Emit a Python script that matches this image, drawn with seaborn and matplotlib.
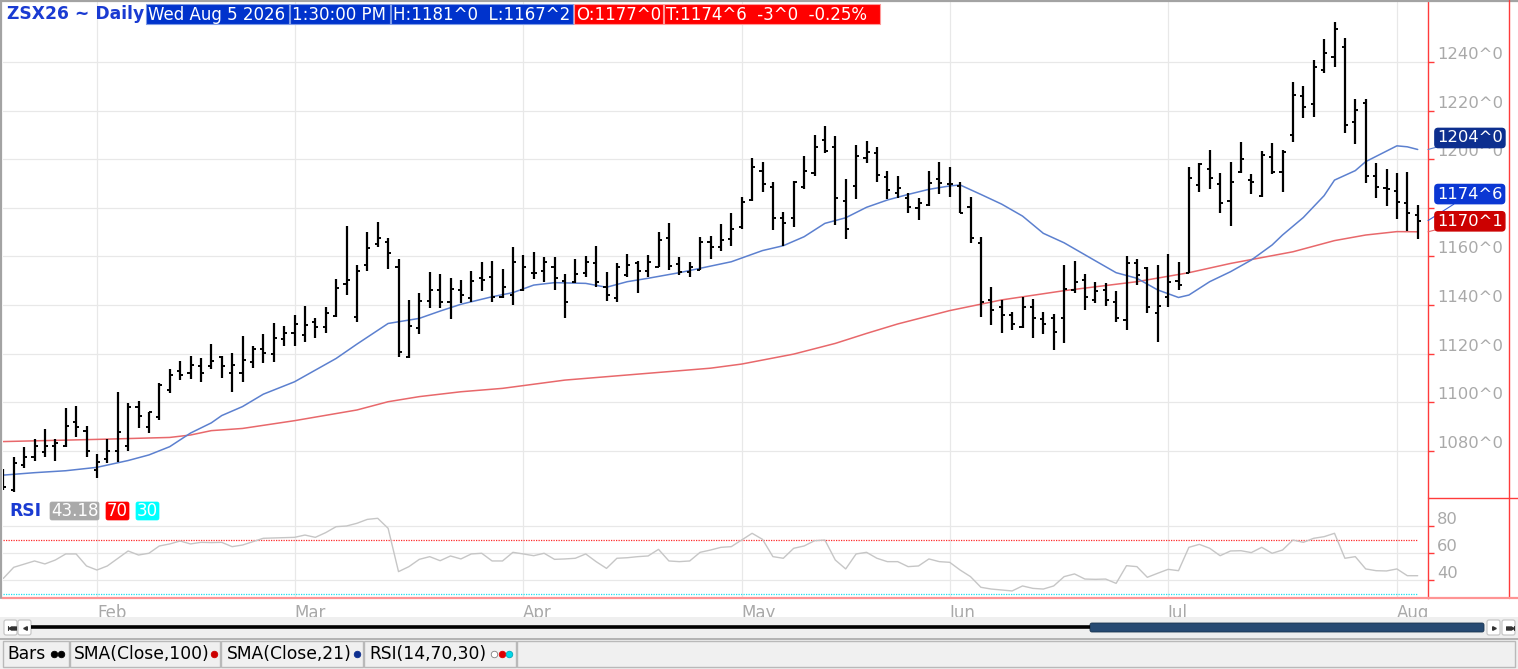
import numpy as np
import pandas as pd
import matplotlib
matplotlib.use("Agg")
import matplotlib.pyplot as plt
import matplotlib.transforms as mtrans
from matplotlib.patches import Rectangle, FancyBboxPatch
import seaborn as sns

sns.set_theme(style="white")
plt.rcParams["font.family"] = ["DejaVu Sans"]

# ---------------- data ----------------
symbol = "ZSX26 ~ Daily"
quote_time = "1:30:00 PM"
holidays = ["2026-02-16", "2026-04-03", "2026-05-25", "2026-06-19", "2026-07-03"]
first_day, last_day = "2026-01-20", "2026-08-05"

open_ = [1068, 1064, 1074, 1077.3, 1079.4, 1082, 1082, 1092, 1088, 1072,
         1076.6, 1080, 1082, 1098, 1090, 1094, 1105, 1113, 1112, 1115,
         1115, 1118.5, 1111.9, 1112.1, 1116.4, 1122, 1120, 1126, 1128.3, 1127.6,
         1133, 1131, 1135.5, 1148.6, 1135, 1156.5, 1165, 1166, 1155.8, 1118.5,
         1130.4, 1141.6, 1146.2, 1141.4, 1146.2, 1142.7, 1151, 1151.4, 1143.4, 1144.1,
         1146.2, 1153, 1154.1, 1155.8, 1150, 1149.6, 1153.3, 1157.4, 1147.6, 1142.7,
         1152.4, 1157.1, 1154, 1155.8, 1167.4, 1156.9, 1153.4, 1154.4, 1166, 1164,
         1167, 1172, 1183.2, 1195.1, 1188.7, 1175.7, 1175.7, 1188.4, 1194.2, 1207.9,
         1205, 1183, 1189, 1200.4, 1202.4, 1192.5, 1186.2, 1183.9, 1179.8, 1181.2,
         1192, 1190, 1189, 1180.5, 1165.4, 1142.1, 1139.3, 1135.9, 1131.1, 1139.3,
         1134.1, 1134.5, 1134.5, 1146.2, 1150.3, 1142, 1146, 1141.4, 1133.8, 1157.1,
         1155.1, 1136.6, 1143.4, 1150, 1153.3, 1189.4, 1195.8, 1189.8, 1182.8, 1194.9,
         1191.4, 1184.8, 1201, 1194.9, 1209.9, 1226, 1222.6, 1236.7, 1241.9, 1246.3,
         1215.4, 1223, 1193, 1188, 1187, 1182, 1177]
high = [1072.4, 1077.3, 1081.7, 1084.8, 1088.8, 1084.8, 1097.5, 1098.4, 1090.3, 1078.5,
        1084.8, 1104.3, 1099.5, 1100.6, 1096.1, 1107.8, 1113.7, 1117.1, 1119.1, 1118,
        1123.9, 1119.1, 1120.1, 1127.2, 1123.3, 1128, 1132.4, 1131.3, 1135.9, 1139.7,
        1134.8, 1139.3, 1150.6, 1172.5, 1156.4, 1169.9, 1174.3, 1167.4, 1158.8, 1142,
        1145.1, 1153.7, 1152.7, 1151.2, 1150.3, 1154.1, 1157.5, 1158.1, 1154.7, 1164,
        1160.6, 1162, 1159.9, 1159.9, 1152.8, 1158.9, 1160.3, 1164.3, 1153.7, 1157.4,
        1160.9, 1158.1, 1160.6, 1170.2, 1173.9, 1159.9, 1157.6, 1167.8, 1168.4, 1173.2,
        1177.7, 1184.3, 1200.4, 1198.7, 1190.8, 1178.1, 1191.2, 1201.3, 1210, 1213.8,
        1209.5, 1191.7, 1205.8, 1207.5, 1205.2, 1195.1, 1193.2, 1186.2, 1183.9, 1195.1,
        1199, 1196.9, 1190.5, 1184.3, 1167.8, 1147.3, 1142, 1137.2, 1143.4, 1142.5,
        1137.2, 1136.5, 1156.4, 1158.2, 1152.7, 1149.6, 1149.2, 1145.9, 1160.3, 1158.9,
        1155.5, 1156.4, 1161, 1157.8, 1196.9, 1198.6, 1203.8, 1194.2, 1199, 1207.2,
        1193.9, 1203.4, 1206.5, 1203.8, 1231.9, 1230.1, 1240.8, 1249.3, 1256.6, 1249.7,
        1224.8, 1224.8, 1198.3, 1195.8, 1194.2, 1194.9, 1181]
low = [1063.9, 1063.2, 1073.1, 1075.8, 1077.6, 1075.9, 1081.7, 1085.5, 1077.6, 1068.7,
       1074.8, 1075.5, 1080, 1089.5, 1087.5, 1092.7, 1103.6, 1109.1, 1109.5, 1108.2,
       1113.5, 1109.8, 1104.3, 1108.4, 1114.2, 1116.3, 1116.4, 1123.3, 1123.3, 1124.9,
       1126.5, 1128.6, 1134.9, 1144.1, 1133.1, 1154, 1164, 1154.7, 1118.7, 1118,
       1127.9, 1138.6, 1138.6, 1134.1, 1140.9, 1141.4, 1145.7, 1141.1, 1142.7, 1140,
       1145.9, 1150.7, 1149.6, 1146.2, 1134.8, 1149.2, 1151.7, 1147.5, 1141.8, 1141.4,
       1151.4, 1144.8, 1151.7, 1155.8, 1154.4, 1152.3, 1151.4, 1154.4, 1158.8, 1162.2,
       1164.3, 1171.1, 1182.8, 1186.4, 1170.9, 1164.4, 1172.2, 1187.6, 1193.2, 1202.4,
       1172.9, 1167, 1183.6, 1198.3, 1190.8, 1183.6, 1183.9, 1177.7, 1175, 1180.7,
       1185.7, 1184.6, 1177.7, 1165.4, 1134.9, 1131.8, 1128.3, 1129.7, 1130.4, 1126.3,
       1127.9, 1121.5, 1124.2, 1144.8, 1137.9, 1140.7, 1139.6, 1133.1, 1129.7, 1148.2,
       1136.8, 1124.6, 1139.3, 1146.2, 1153, 1186.6, 1187.6, 1178, 1172.5, 1194.4,
       1185.7, 1184.3, 1193.9, 1186.4, 1207.2, 1216.8, 1217.5, 1235.3, 1237.8, 1210.6,
       1206.2, 1190.1, 1183.9, 1180.7, 1175.4, 1170.4, 1167.25]
close = [1065.2, 1074.8, 1077.6, 1082, 1082, 1083.3, 1090.3, 1089.9, 1080, 1075.5,
         1080, 1087.9, 1098, 1094.3, 1095.8, 1107, 1111.2, 1111.2, 1115.3, 1112.1,
         1117.1, 1115, 1115.3, 1117.4, 1121.9, 1120.4, 1126.3, 1128.6, 1132, 1131.8,
         1131.1, 1136.6, 1146.8, 1150.3, 1154.1, 1163.3, 1167.4, 1161.5, 1120.8, 1131.3,
         1141.6, 1146.2, 1141.4, 1146.4, 1144.1, 1150, 1150.3, 1143.4, 1147.3, 1157.8,
         1155.8, 1153, 1157.8, 1151, 1141.4, 1152.8, 1157.8, 1149.6, 1144.1, 1155.8,
         1156.5, 1154.1, 1157.8, 1166.7, 1156.2, 1153.4, 1155.8, 1166.1, 1164, 1166.8,
         1171.1, 1182.5, 1196.9, 1189.7, 1175.7, 1173.6, 1190.8, 1195.1, 1205.2, 1203.5,
         1183.9, 1171.1, 1201.3, 1203.1, 1193.5, 1187.3, 1188, 1180.5, 1181.8, 1190.1,
         1190.1, 1189.8, 1178, 1167.4, 1141.4, 1137.9, 1135.9, 1132.2, 1139.3, 1134.5,
         1132.2, 1129, 1146.4, 1149.6, 1143.4, 1145.9, 1142, 1134.5, 1157.1, 1152.3,
         1139.3, 1139.7, 1149.6, 1148.2, 1192.4, 1198, 1192.1, 1181.8, 1190.7, 1199.9,
         1190.7, 1201.7, 1194.9, 1203.1, 1226.4, 1221.3, 1238, 1243.8, 1253.4, 1214.1,
         1220.2, 1193, 1188.7, 1187.6, 1182.5, 1177.75, 1174.75]

sma21_idx = [0, 3, 6, 9, 12, 14, 16, 18, 20, 21, 23, 25, 28, 30, 32, 34, 37, 40, 42, 44,
             47, 49, 51, 53, 56, 58, 60, 62, 65, 67, 70, 73, 75, 77, 79, 81, 83, 85, 87, 89,
             91, 92, 94, 96, 98, 100, 102, 105, 107, 109, 111, 113, 114, 116, 118, 120, 122, 123, 125, 127,
             128, 130, 131, 134, 135, 136]
sma21_val = [1070.0, 1071.0, 1071.8, 1073.2, 1076.0, 1078.3, 1081.7, 1087.3, 1091.5, 1094.5,
             1098.2, 1103.3, 1108.4, 1113.2, 1118.0, 1123.9, 1132.4, 1134.5, 1137.5, 1140.3,
             1143.4, 1145.1, 1148.2, 1149.2, 1148.9, 1147.3, 1149.6, 1151.0, 1153.3, 1155.1,
             1157.8, 1162.4, 1164.4, 1168.1, 1173.6, 1175.9, 1180.2, 1183.2, 1185.5, 1187.6,
             1189.0, 1189.4, 1185.5, 1181.5, 1176.6, 1169.5, 1165.6, 1158.2, 1153.3, 1151.0,
             1146.2, 1143.1, 1144.1, 1149.6, 1153.7, 1158.5, 1164.7, 1168.8, 1176.0, 1185.0,
             1191.4, 1195.3, 1199.0, 1205.5, 1205.1, 1204.0]

sma100_idx = [0, 9, 16, 18, 20, 23, 28, 34, 37, 40, 44, 48, 54, 60, 68, 71, 76, 80, 83, 86,
              91, 96, 102, 109, 114, 118, 124, 128, 131, 134, 136]
sma100_val = [1083.8, 1084.7, 1085.5, 1086.5, 1088.3, 1089.2, 1092.4, 1096.8, 1100.2, 1102.3,
              1104.3, 1105.7, 1109.1, 1111.2, 1114.0, 1115.7, 1119.8, 1124.2, 1128.3, 1132.2,
              1137.7, 1142.1, 1145.9, 1149.6, 1153.3, 1157.1, 1161.9, 1166.5, 1168.8, 1170.2, 1170.125]

rsi_idx = [0, 1, 3, 4, 5, 6, 7, 8, 9, 10, 12, 13, 14, 15, 16, 17, 18, 19, 20, 21,
           22, 23, 25, 28, 29, 30, 31, 32, 33, 34, 35, 36, 37, 38, 39, 40, 41, 42, 43, 44,
           45, 46, 47, 48, 49, 50, 51, 52, 53, 54, 55, 56, 57, 58, 59, 60, 61, 62, 63, 64,
           65, 66, 67, 68, 69, 70, 72, 73, 74, 75, 76, 77, 78, 79, 80, 81, 82, 83, 84, 85,
           86, 87, 88, 89, 90, 91, 92, 93, 94, 95, 96, 97, 98, 99, 100, 101, 102, 103, 104, 105,
           106, 107, 108, 109, 110, 111, 112, 113, 114, 115, 116, 117, 118, 119, 120, 121, 122, 123, 124, 125,
           126, 127, 128, 129, 130, 131, 132, 133, 134, 135, 136]
rsi_val = [41.2, 49.4, 54.1, 51.9, 54.8, 59.3, 59.3, 50.4, 47.4, 50.4, 61.5, 58.5, 59.8, 65.2, 66.7, 68.9, 66.7, 67.9, 67.7, 67.9,
           64.7, 65.9, 70.9, 71.6, 73.3, 71.6, 75.1, 79.5, 80.0, 82.0, 84.9, 85.7, 78.3, 46.2, 49.9, 55.3, 57.3, 54.3, 57.8, 55.6,
           59.3, 59.8, 54.1, 54.1, 60.5, 59.3, 58.0, 59.8, 55.3, 55.6, 56.1, 59.3, 53.6, 48.6, 56.1, 56.5, 57.3, 57.8, 62.7, 54.1,
           53.6, 54.1, 60.5, 62.2, 64.2, 64.7, 74.6, 70.1, 57.3, 56.1, 63.5, 65.2, 69.1, 69.6, 54.8, 48.2, 59.3, 60.5, 56.1, 53.6,
           53.6, 49.9, 50.4, 55.6, 53.6, 53.1, 47.4, 42.5, 34.6, 33.3, 32.6, 31.9, 35.6, 33.8, 33.3, 35.6, 42.5, 44.5, 40.7, 40.5,
           40.7, 37.5, 50.6, 49.9, 42.0, 45.0, 47.9, 46.9, 64.2, 66.4, 63.5, 58.0, 61.5, 61.7, 60.3, 64.2, 59.8, 62.2, 69.6, 67.9,
           70.9, 72.1, 74.6, 56.1, 57.3, 48.2, 46.9, 46.7, 48.2, 43.2, 43.18]
rsi_upper, rsi_lower = 70, 30

price_ticks = [1080, 1100, 1120, 1140, 1160, 1180, 1200, 1220, 1240]
hidden_price_labels = [1180]   # covered by the last-price tag in the reference
rsi_ticks = [40, 60, 80]
legend_items = ["Bars", "SMA(Close,100)", "SMA(Close,21)", "RSI(14,70,30)"]


def eighths(v):
    s = "-" if v < 0 else ""
    a = abs(v)
    whole = int(a + 1e-9)
    frac = int(round((a - whole) * 8))
    if frac == 8:
        whole, frac = whole + 1, 0
    return f"{s}{whole}^{frac}"


dates = pd.bdate_range(first_day, last_day, freq="C", holidays=holidays)
n = len(dates)
idx = np.arange(n)
o = np.array(open_); h = np.array(high); l = np.array(low); c = np.array(close)
month_start = [i for i in range(1, n) if dates[i].month != dates[i - 1].month]
month_labels = [dates[i].strftime("%b") for i in month_start]

# ---------------- figure ----------------
W, H = 1518, 669
fig = plt.figure(figsize=(W / 100, H / 100), dpi=100)
fig.patch.set_facecolor("white")


def add_px_axes(x0, y0, x1, y1, **kw):
    return fig.add_axes([x0 / W, 1 - y1 / H, (x1 - x0) / W, (y1 - y0) / H], **kw)


XL = (-0.03, 136.99)
RED = "#ff3b3b"
GRID = "#e8e8e8"
LABEL_GRAY = "#a9a9a9"

# price panel
ax = add_px_axes(3, 2, 1428, 498)
ax.set_facecolor("white")
ax.set_xlim(*XL)
ax.set_ylim(1060.58, 1264.69)
for s in ["top", "left", "bottom"]:
    ax.spines[s].set_visible(False)
ax.spines["right"].set_color(RED)
ax.spines["right"].set_linewidth(1.0)
ax.set_xticks([])
ax.yaxis.tick_right()
ax.set_yticks(price_ticks)
ax.tick_params(axis="y", direction="out", length=4, width=1, color=RED, labelright=False, labelleft=False)
for v in price_ticks:
    ax.axhline(v, color=GRID, lw=0.9, zorder=0)
for m in month_start:
    ax.axvline(m, color=GRID, lw=0.9, zorder=0)

sns.lineplot(x=sma100_idx, y=sma100_val, ax=ax, color="#e8686b", lw=1.1, zorder=2)
sns.lineplot(x=sma21_idx, y=sma21_val, ax=ax, color="#5c80cf", lw=1.1, zorder=2)
ax.vlines(idx, l, h, color="black", lw=1.6, zorder=3)
ax.hlines(o, idx - 0.3, idx, color="black", lw=1.4, zorder=3)
ax.hlines(c, idx, idx + 0.3, color="black", lw=1.4, zorder=3)
ax.set_xlabel(""); ax.set_ylabel("")

bt = mtrans.blended_transform_factory(ax.transAxes, ax.transData)
lab_tr = mtrans.offset_copy(bt, fig=fig, x=9, y=7.5, units="dots")
for v in price_ticks:
    if v in hidden_price_labels:
        continue
    ax.text(1.0, v, eighths(v), transform=lab_tr, ha="left", va="center",
            color=LABEL_GRAY, fontsize=11.8, clip_on=False)


def price_tag(val, fc, dy, lc):
    ax.annotate(eighths(val), xy=(1.0, val), xycoords=bt, xytext=(9, dy),
                textcoords="offset pixels", ha="left", va="center", color="white",
                fontsize=11.8, zorder=10, annotation_clip=False,
                bbox=dict(boxstyle="round,pad=0.13,rounding_size=0.2", fc=fc, ec=fc),
                arrowprops=dict(arrowstyle="-", color=lc, lw=0.8, shrinkA=0, shrinkB=0))


price_tag(sma21_val[-1], "#0d2f8f", 11.5, "#5c80cf")
price_tag(c[-1], "#0b37d3", 26.5, "#3a60d8")
price_tag(sma100_val[-1], "#cc0000", 10.5, "#e8686b")

# RSI panel
axr = add_px_axes(3, 498, 1428, 598)
axr.set_facecolor("white")
axr.set_xlim(*XL)
axr.set_ylim(26.67, 100.74)
for s in ["top", "left"]:
    axr.spines[s].set_visible(False)
axr.spines["right"].set_color(RED)
axr.spines["right"].set_linewidth(1.0)
axr.spines["bottom"].set_color("#ff9494")
axr.spines["bottom"].set_linewidth(1.6)
for v in rsi_ticks:
    axr.axhline(v, color=GRID, lw=0.9, zorder=0)
for m in month_start:
    axr.axvline(m, color=GRID, lw=0.9, zorder=0)
axr.hlines(rsi_upper, XL[0], idx[-1], colors="#ff2a2a", lw=0.9, linestyles=(0, (1, 1)), zorder=2)
axr.hlines(rsi_lower, XL[0], idx[-1], colors="#19e3f0", lw=0.9, linestyles=(0, (1, 1)), zorder=2)
sns.lineplot(x=rsi_idx, y=rsi_val, ax=axr, color="#c6c6c6", lw=1.0, zorder=3)
axr.set_xlabel(""); axr.set_ylabel("")
axr.yaxis.tick_right()
axr.set_yticks(rsi_ticks)
axr.tick_params(axis="y", direction="out", length=4, width=1, color=RED, labelright=False, labelleft=False)
axr.set_xticks(month_start)
axr.set_xticklabels(month_labels)
axr.tick_params(axis="x", direction="out", length=3, width=1, color=RED, pad=1.5,
                labelcolor=LABEL_GRAY, labelsize=12)
for t in axr.get_xticklabels():
    t.set_ha("left")
bt_r = mtrans.blended_transform_factory(axr.transAxes, axr.transData)
lab_tr_r = mtrans.offset_copy(bt_r, fig=fig, x=9, y=7, units="dots")
for v in rsi_ticks:
    axr.text(1.0, v, str(v), transform=lab_tr_r, ha="left", va="center",
             color=LABEL_GRAY, fontsize=11.8, clip_on=False)

# ---------------- overlay (frame, header, toolbar) ----------------
ov = fig.add_axes([0, 0, 1, 1], zorder=20)
ov.set_xlim(0, W); ov.set_ylim(H, 0); ov.axis("off"); ov.patch.set_alpha(0)

ov.plot([0, W], [1, 1], color="#a3a3a3", lw=1.6)
ov.plot([1, 1], [0, 598], color="#a3a3a3", lw=1.6)
ov.plot([1428, W], [498, 498], color=RED, lw=1.0)
ov.plot([1509, 1509], [0, 598], color=RED, lw=1.0)
ov.plot([1428, W], [598, 598], color="#ff9494", lw=1.6)

# header
ov.text(7, 14, symbol, color="#1a3bd2", fontsize=12.3, fontweight="bold", ha="left", va="center")
last = dates[-1]
date_txt = f"{last.strftime('%a %b')} {last.day} {last.year}"
chg = c[-1] - c[-2]
pct = chg / c[-2] * 100
boxes = [
    (146, 289, "#0033cc", date_txt),
    (290, 390, "#0033cc", quote_time),
    (391, 573, "#0033cc", f"H:{eighths(h[-1])}  L:{eighths(l[-1])}"),
    (574, 663, "#ff0000", f"O:{eighths(o[-1])}"),
    (664, 880, "#ff0000", f"T:{eighths(c[-1])}  {eighths(chg)}  {pct:.2f}%"),
]
for x0, x1, fc, txt in boxes:
    ec = "#7f9be6" if fc == "#0033cc" else "#ff9a9a"
    ov.add_patch(Rectangle((x0, 4), x1 - x0, 20, fc=fc, ec=ec, lw=0.8))
    ov.text(x0 + 2, 14.5, txt, color="white", fontsize=12, ha="left", va="center")

# RSI header
ov.text(9, 511, "RSI", color="#1a3bd2", fontsize=12.3, fontweight="bold", ha="left", va="center")
rsi_boxes = [(50, 99, "#a9a9a9", f"{rsi_val[-1]:.2f}"),
             (106, 129, "#ff0000", str(rsi_upper)),
             (136, 159, "#00ffff", str(rsi_lower))]
for x0, x1, fc, txt in rsi_boxes:
    ov.add_patch(FancyBboxPatch((x0, 502), x1 - x0, 18, boxstyle="round,pad=0,rounding_size=2",
                                fc=fc, ec=fc, lw=0.5))
    ov.text((x0 + x1) / 2, 511.5, txt, color="white", fontsize=12, ha="center", va="center")

# scrollbar
ov.add_patch(Rectangle((0, 617), W, 21, fc="#efefef", ec="none"))
ov.plot([31, 1090], [627, 627], color="black", lw=2.6, solid_capstyle="butt")
ov.add_patch(FancyBboxPatch((1090, 623), 394, 9, boxstyle="round,pad=0,rounding_size=2",
                            fc="#274a72", ec="#1b3550", lw=0.6))
# scroll buttons: (left x, arrow direction, with end bar)
for bx, direction, bar in [(4, "<", True), (18, "<", False), (1487, ">", False), (1502, ">", True)]:
    ov.add_patch(FancyBboxPatch((bx, 620), 13, 15, boxstyle="round,pad=0,rounding_size=2",
                                fc="white", ec="#c2c2c2", lw=0.8))
    cx = bx + 6.5
    if bar:
        ov.plot([cx + 1.5, cx + 3.5], [627.5, 627.5], ls="none", marker=direction, ms=2.6, color="#333333")
        ov.plot([cx - 2.5 if direction == "<" else cx + 5.5] * 2, [625.5, 629.5], color="#333333", lw=0.8)
        ov.plot([cx - 0.5], [627.5], ls="none", marker=direction, ms=2.6, color="#333333")
    else:
        ov.plot([cx], [627.5], ls="none", marker=direction, ms=2.6, color="#333333")

# toolbar
ov.add_patch(Rectangle((0, 638), W, 31, fc="#f0f0f0", ec="none"))
ov.plot([0, W], [638.5, 638.5], color="#a8a8a8", lw=1.2)
tabs = [(3, 69), (70, 220), (221, 363), (364, 516), (517, 1515)]
for x0, x1 in tabs:
    ov.add_patch(Rectangle((x0, 641), x1 - x0, 26, fc="#f0f0f0", ec="#b9b9b9", lw=1.0))
text_x = [7, 74, 227, 369]
for tx, item in zip(text_x, legend_items):
    ov.text(tx, 654, item, fontsize=12.3, color="black", ha="left", va="center")
dots = [(54, "black", "black"), (61, "black", "black"), (214, "#cc0000", "#cc0000"),
        (357, "#0d2f8f", "#0d2f8f"), (494, "white", "#808080"), (502, "#dd0000", "#dd0000"),
        (509, "#00d8e8", "#00a8b8")]
for dx, fc, ec in dots:
    ov.scatter([dx], [654], s=22, c=fc, edgecolors=ec, linewidths=0.6, zorder=5)

fig.savefig("out.png", dpi=100, facecolor="white")
